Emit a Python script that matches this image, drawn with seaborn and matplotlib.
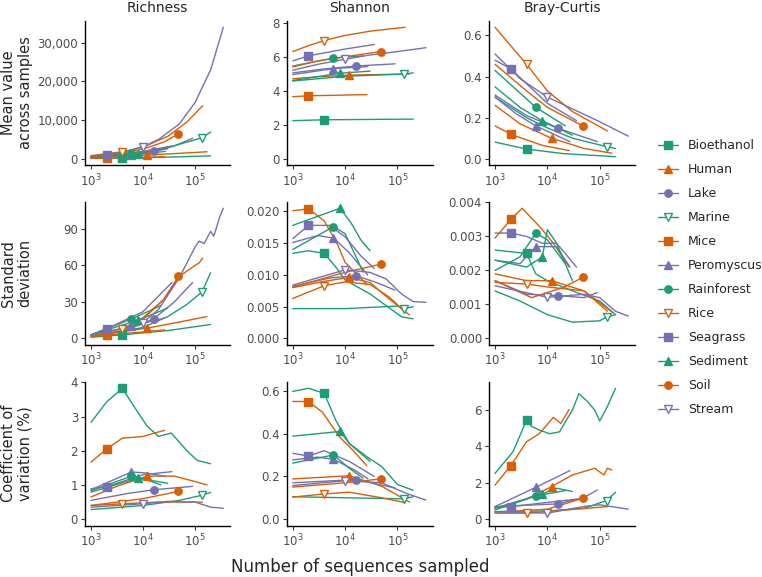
import numpy as np
import pandas as pd
import matplotlib
matplotlib.use("Agg")
import matplotlib.pyplot as plt
import seaborn as sns
from matplotlib.lines import Line2D

# Datasets, colours and marker shapes
datasets = ["Bioethanol", "Human", "Lake", "Marine", "Mice", "Peromyscus",
            "Rainforest", "Rice", "Seagrass", "Sediment", "Soil", "Stream"]
green, orange, purple = "#1B9E77", "#D95F02", "#7570B3"
colors = [green, orange, purple, green, orange, purple,
          green, orange, purple, green, orange, purple]
markers = ["s", "^", "o", "v", "s", "^", "o", "v", "s", "^", "o", "v"]
filled = [True, True, True, False, True, True, True, False, True, True, True, False]

# x position of the single marker on each curve
marker_x = {"Bioethanol": 4e3, "Human": 1.2e4, "Lake": 1.6e4, "Marine": 1.35e5,
            "Mice": 2e3, "Peromyscus": 6e3, "Rainforest": 6e3, "Rice": 4e3,
            "Seagrass": 2e3, "Sediment": 8e3, "Soil": 4.8e4, "Stream": 1e4}

# ---- Mean value across samples ----
richness_mean = {
    "Bioethanol": ([1e3, 4e3, 3e4, 2e5], [80, 150, 400, 750]),
    "Human": ([1e3, 1.2e4, 5e4, 1.7e5], [250, 950, 1400, 1800]),
    "Lake": ([1e3, 5e3, 1.6e4, 4e4, 9e4], [400, 1100, 1900, 3300, 5300]),
    "Marine": ([1e3, 1e4, 3e4, 7e4, 1.35e5, 2e5], [300, 1500, 2900, 4300, 5400, 6900]),
    "Mice": ([1e3, 2e3, 2.6e4], [100, 150, 500]),
    "Peromyscus": ([1e3, 6e3, 2.7e4], [350, 900, 1900]),
    "Rainforest": ([1e3, 6e3, 2.2e4], [400, 1300, 2500]),
    "Rice": ([1e3, 4e3, 1e4, 3e4, 7e4, 1.4e5], [800, 1800, 3000, 5800, 9500, 13700]),
    "Seagrass": ([1e3, 2e3, 1e4, 3.6e4], [550, 850, 1900, 3300]),
    "Sediment": ([1e3, 8e3, 3e4], [350, 1200, 2600]),
    "Soil": ([1e3, 4e3, 1e4, 2.5e4, 4.8e4], [600, 1500, 2500, 4300, 6400]),
    "Stream": ([1e3, 2e3, 5e3, 1e4, 2e4, 5e4, 1e5, 2e5, 3.5e5],
               [600, 1000, 2000, 3100, 5000, 9000, 14500, 23000, 34000]),
}
shannon_mean = {
    "Bioethanol": ([1e3, 4e3, 2e5], [2.24, 2.29, 2.33]),
    "Human": ([1e3, 3e3, 1.2e4, 1.7e5], [4.7, 4.82, 4.92, 4.98]),
    "Lake": ([1e3, 4e3, 1.6e4, 9e4], [5.05, 5.28, 5.45, 5.58]),
    "Marine": ([1e3, 1e4, 1.35e5, 2e5], [4.57, 4.85, 4.98, 5.05]),
    "Mice": ([1e3, 2e3, 2.6e4], [3.65, 3.7, 3.77]),
    "Peromyscus": ([1e3, 6e3, 2.7e4], [4.95, 5.3, 5.42]),
    "Rainforest": ([1e3, 6e3, 2.2e4], [5.45, 5.92, 6.05]),
    "Rice": ([1e3, 2e3, 4e3, 1e4, 3e4, 1.4e5], [6.3, 6.65, 6.95, 7.25, 7.5, 7.73]),
    "Seagrass": ([1e3, 2e3, 1e4, 3.6e4], [5.75, 6.05, 6.45, 6.72]),
    "Sediment": ([1e3, 8e3, 3e4], [4.6, 5.03, 5.15]),
    "Soil": ([1e3, 3e3, 1e4, 4.8e4], [5.4, 5.75, 6.0, 6.3]),
    "Stream": ([1e3, 3e3, 1e4, 3e4, 1e5, 3.5e5], [5.2, 5.55, 5.85, 6.1, 6.3, 6.53]),
}
bray_mean = {
    "Bioethanol": ([1e3, 4e3, 2e4, 2e5], [0.081, 0.047, 0.025, 0.01]),
    "Human": ([1e3, 3e3, 1.2e4, 5e4, 1.7e5], [0.26, 0.17, 0.10, 0.05, 0.027]),
    "Lake": ([1e3, 4e3, 1.6e4, 9e4], [0.31, 0.21, 0.148, 0.083]),
    "Marine": ([1e3, 4e3, 1e4, 3e4, 1.35e5, 2e5], [0.30, 0.2, 0.15, 0.1, 0.059, 0.05]),
    "Mice": ([1e3, 2e3, 8e3, 2.6e4], [0.16, 0.119, 0.065, 0.04]),
    "Peromyscus": ([1e3, 2.5e3, 6e3, 2.7e4], [0.30, 0.22, 0.16, 0.083]),
    "Rainforest": ([1e3, 3e3, 6e3, 2.2e4], [0.43, 0.32, 0.25, 0.16]),
    "Rice": ([1e3, 4e3, 1e4, 3e4, 1.4e5], [0.64, 0.46, 0.33, 0.23, 0.135]),
    "Seagrass": ([1e3, 2e3, 1e4, 3.6e4], [0.48, 0.437, 0.27, 0.185]),
    "Sediment": ([1e3, 3e3, 8e3, 3e4], [0.35, 0.25, 0.185, 0.115]),
    "Soil": ([1e3, 4e3, 1e4, 4.8e4], [0.46, 0.33, 0.25, 0.159]),
    "Stream": ([1e3, 3e3, 1e4, 1e5, 3.5e5], [0.51, 0.39, 0.30, 0.18, 0.11]),
}

# ---- Standard deviation ----
richness_sd = {
    "Bioethanol": ([1e3, 4e3, 3e4, 2e5], [1, 3, 6.5, 11.5]),
    "Human": ([1e3, 1.2e4, 5e4, 1.7e5], [2, 8.5, 13.5, 18]),
    "Lake": ([1e3, 5e3, 1.6e4, 4e4, 9e4], [2, 7, 16, 30, 46]),
    "Marine": ([1e3, 1e4, 3e4, 7e4, 1.35e5, 2e5], [1.5, 9, 18, 28, 38, 54]),
    "Mice": ([1e3, 2e3, 2.6e4], [1.8, 2.8, 7]),
    "Peromyscus": ([1e3, 6e3, 2.7e4], [2.5, 10, 17]),
    "Rainforest": ([1e3, 6e3, 2.2e4], [3, 16, 27]),
    "Rice": ([1e3, 4e3, 1e4, 2.5e4, 5e4, 1e5, 1.2e5, 1.4e5], [3, 8, 17, 32, 51, 60, 62, 66]),
    "Seagrass": ([1e3, 2e3, 1e4, 3.6e4], [3, 8, 22, 46]),
    "Sediment": ([1e3, 8e3, 3e4], [3, 15, 25]),
    "Soil": ([1e3, 4e3, 1e4, 2.5e4, 4.8e4], [2, 6, 16, 32, 51]),
    "Stream": ([1e3, 3e3, 1e4, 2e4, 5e4, 1e5, 1.2e5, 1.5e5, 2e5, 2.3e5, 3e5, 3.5e5],
               [3, 7, 13, 24, 50, 75, 80, 78, 88, 84, 100, 107]),
}
shannon_sd = {
    "Bioethanol": ([1e3, 2e3, 4e3, 7e3, 1e4, 3e4, 7e4, 1.2e5, 2e5],
                   [.0134, .0138, .0134, .0110, .0092, .0070, .0048, .0034, .0031]),
    "Human": ([1e3, 4e3, 1.2e4, 3e4, 7e4, 1.7e5], [.0080, .0090, .0096, .0088, .0062, .0037]),
    "Lake": ([1e3, 5e3, 1.6e4, 4e4, 9e4], [.0082, .0095, .0099, .0088, .0076]),
    "Marine": ([1e3, 1e4, 1e5, 1.35e5, 2e5], [.0047, .0047, .0051, .0047, .0050]),
    "Mice": ([1e3, 2e3, 4e3, 7e3, 1e4, 2.6e4], [.0201, .0204, .0185, .0150, .0120, .0085]),
    "Peromyscus": ([1e3, 3e3, 6e3, 1.2e4, 2.7e4], [.0151, .0162, .0158, .0135, .0100]),
    "Rainforest": ([1e3, 6e3, 1e4, 2.2e4], [.0140, .0176, .0165, .0105]),
    "Rice": ([1e3, 4e3, 1e4, 3e4, 7e4, 1.4e5], [.0063, .0083, .0089, .0085, .0065, .0042]),
    "Seagrass": ([1e3, 2e3, 5e3, 1e4, 2e4, 3.6e4], [.0157, .0178, .0178, .0160, .0130, .0110]),
    "Sediment": ([1e3, 8e3, 1.3e4, 2e4, 3e4], [.0178, .0205, .0182, .0155, .0138]),
    "Soil": ([1e3, 1e4, 4.8e4], [.0081, .0104, .0117]),
    "Stream": ([1e3, 1e4, 3e4, 6e4, 1.2e5, 2e5, 3.5e5],
               [.0084, .0108, .0104, .0094, .0070, .0058, .0057]),
}
bray_sd = {
    "Bioethanol": ([1e3, 4e3, 6e3, 1e4, 3e4, 1e5, 2e5], [.0026, .0025, .0019, .0017, .0014, .0011, .0007]),
    "Human": ([1e3, 4e3, 1.2e4, 5e4, 1.7e5], [.0019, .0017, .0017, .0014, .00078]),
    "Lake": ([1e3, 4e3, 1.6e4, 5e4, 9e4], [.0017, .0013, .00126, .0012, .00135]),
    "Marine": ([1e3, 3e3, 1e4, 3e4, 1e5, 1.35e5, 2e5], [.0014, .0011, .0007, .00048, .00052, .00063, .0007]),
    "Mice": ([1e3, 2e3, 3.3e3, 7e3, 1.3e4, 2.6e4], [.00295, .0035, .00383, .0033, .0028, .0021]),
    "Peromyscus": ([1e3, 3e3, 6e3, 1.5e4, 2.7e4], [.0023, .0022, .0027, .0027, .0021]),
    "Rainforest": ([1e3, 3e3, 6e3, 1e4, 2.2e4], [.0020, .0024, .0031, .0029, .0022]),
    "Rice": ([1e3, 4e3, 1.2e4, 5e4, 1.4e5], [.00165, .0016, .0015, .0014, .0008]),
    "Seagrass": ([1e3, 2e3, 4e3, 8e3, 1.5e4, 3.6e4], [.0031, .0031, .0030, .0028, .0028, .0021]),
    "Sediment": ([1e3, 4e3, 8e3, 1e4, 1.5e4, 3e4], [.0023, .0021, .0024, .0032, .0028, .0017]),
    "Soil": ([1e3, 5e3, 2e4, 4.8e4], [.0017, .0012, .0015, .0018]),
    "Stream": ([1e3, 1e4, 5e4, 1e5, 2e5, 3.5e5], [.00155, .00121, .0013, .0012, .0008, .00066]),
}

# ---- Coefficient of variation (%) ----
richness_cv = {
    "Bioethanol": ([1e3, 2e3, 4e3, 6.5e3, 1.2e4, 2e4, 3.5e4, 7e4, 1.1e5, 2e5],
                   [2.83, 3.43, 3.83, 3.33, 2.72, 2.42, 2.52, 2.0, 1.72, 1.62]),
    "Human": ([1e3, 3e3, 1.2e4, 4e4, 1e5, 1.7e5], [0.65, 0.95, 1.26, 1.26, 1.1, 1.0]),
    "Lake": ([1e3, 5e3, 1.6e4, 9e4], [0.55, 0.75, 0.86, 0.96]),
    "Marine": ([1e3, 1e4, 5e4, 1.35e5, 2e5], [0.28, 0.4, 0.55, 0.7, 0.78]),
    "Mice": ([1e3, 2e3, 4e3, 1e4, 2.6e4], [1.67, 2.05, 2.37, 2.42, 2.6]),
    "Peromyscus": ([1e3, 6e3, 1.2e4, 2.7e4], [0.86, 1.38, 1.35, 1.25]),
    "Rainforest": ([1e3, 6e3, 1.2e4, 2.2e4], [0.83, 1.26, 1.15, 1.0]),
    "Rice": ([1e3, 4e3, 2e4, 1.4e5], [0.4, 0.45, 0.5, 0.5]),
    "Seagrass": ([1e3, 2e3, 1e4, 3.6e4], [0.89, 0.95, 1.3, 1.39]),
    "Sediment": ([1e3, 8e3, 3e4], [0.79, 1.2, 1.05]),
    "Soil": ([1e3, 1e4, 4.8e4], [0.4, 0.6, 0.81]),
    "Stream": ([1e3, 1e4, 3e4, 1e5, 2e5, 3.5e5], [0.35, 0.45, 0.52, 0.5, 0.35, 0.32]),
}
shannon_cv = {
    "Bioethanol": ([1e3, 2e3, 4e3, 6.7e3, 1.2e4, 2.6e4, 5e4, 1e5, 2e5],
                   [0.597, 0.612, 0.588, 0.46, 0.354, 0.292, 0.246, 0.162, 0.135]),
    "Human": ([1e3, 1.2e4, 5e4, 1.7e5], [0.188, 0.203, 0.154, 0.08]),
    "Lake": ([1e3, 1.6e4, 9e4], [0.17, 0.185, 0.146]),
    "Marine": ([1e3, 1e4, 1.35e5, 2e5], [0.105, 0.1, 0.095, 0.105]),
    "Mice": ([1e3, 2e3, 3.7e3, 7.8e3, 1.4e4, 2.6e4], [0.55, 0.55, 0.5, 0.385, 0.323, 0.25]),
    "Peromyscus": ([1e3, 3e3, 6e3, 1.5e4, 2.7e4], [0.277, 0.29, 0.28, 0.23, 0.19]),
    "Rainforest": ([1e3, 6e3, 1.2e4, 2.2e4], [0.262, 0.3, 0.238, 0.192]),
    "Rice": ([1e3, 4e3, 1.2e4, 5e4, 1.4e5], [0.103, 0.118, 0.126, 0.1, 0.077]),
    "Seagrass": ([1e3, 2e3, 4e3, 1.2e4, 3.6e4], [0.308, 0.295, 0.32, 0.27, 0.2]),
    "Sediment": ([1e3, 8e3, 1.2e4, 3e4], [0.388, 0.41, 0.354, 0.27]),
    "Soil": ([1e3, 1e4, 4.8e4], [0.15, 0.17, 0.188]),
    "Stream": ([1e3, 1e4, 5e4, 1.5e5, 3.5e5], [0.157, 0.18, 0.17, 0.12, 0.089]),
}
bray_cv = {
    "Bioethanol": ([1e3, 2.2e3, 4e3, 5e3, 7e3, 1.1e4, 1.7e4, 3e4, 4e4, 5.7e4, 8e4, 1e5, 1.4e5, 2e5],
                   [2.52, 3.7, 5.44, 5.1, 4.9, 4.7, 4.8, 6.0, 6.9, 6.5, 6.0, 5.4, 6.2, 7.2]),
    "Human": ([1e3, 4e3, 1.2e4, 3e4, 8e4, 1.2e5, 1.4e5, 1.7e5], [0.6, 1.1, 1.79, 2.43, 2.8, 2.43, 2.8, 2.7]),
    "Lake": ([1e3, 1.6e4, 5e4, 9e4], [0.69, 0.84, 1.2, 1.6]),
    "Marine": ([1e3, 1e4, 5e4, 1.35e5, 2e5], [0.42, 0.45, 0.6, 1.02, 1.48]),
    "Mice": ([1e3, 2e3, 4e3, 7e3, 1.3e4, 1.8e4, 2.6e4], [1.88, 2.94, 4.26, 4.7, 5.6, 5.26, 6.03]),
    "Peromyscus": ([1e3, 6e3, 2.7e4], [0.69, 1.75, 2.67]),
    "Rainforest": ([1e3, 6e3, 2.2e4], [0.51, 1.28, 1.57]),
    "Rice": ([1e3, 4e3, 1.4e5], [0.33, 0.33, 0.69]),
    "Seagrass": ([1e3, 2e3, 3.6e4], [0.65, 0.69, 1.1]),
    "Sediment": ([1e3, 8e3, 1.5e4, 3e4], [0.6, 1.39, 1.7, 1.52]),
    "Soil": ([1e3, 1e4, 4.8e4], [0.37, 0.55, 1.15]),
    "Stream": ([1e3, 1e4, 5e4, 1e5, 3.5e5], [0.4, 0.33, 0.7, 0.79, 0.55]),
}

metrics = ["Richness", "Shannon", "Bray-Curtis"]
row_labels = ["Mean value\nacross samples", "Standard\ndeviation", "Coefficient of\nvariation (%)"]
panels = [[richness_mean, shannon_mean, bray_mean],
          [richness_sd, shannon_sd, bray_sd],
          [richness_cv, shannon_cv, bray_cv]]
yticks = [
    [([0, 10000, 20000, 30000], ["0", "10,000", "20,000", "30,000"]),
     ([0, 2, 4, 6, 8], ["0", "2", "4", "6", "8"]),
     ([0, 0.2, 0.4, 0.6], ["0.0", "0.2", "0.4", "0.6"])],
    [([0, 30, 60, 90], ["0", "30", "60", "90"]),
     ([0, .005, .01, .015, .02], ["0.000", "0.005", "0.010", "0.015", "0.020"]),
     ([0, .001, .002, .003, .004], ["0.000", "0.001", "0.002", "0.003", "0.004"])],
    [([0, 1, 2, 3, 4], ["0", "1", "2", "3", "4"]),
     ([0, 0.2, 0.4, 0.6], ["0.0", "0.2", "0.4", "0.6"]),
     ([0, 2, 4, 6], ["0", "2", "4", "6"])],
]

# panel positions in pixels (left, right) / (top, bottom)
W, H = 762, 577
cols_px = [(85, 230), (286.7, 432.7), (489, 635)]
rows_px = [(20.7, 165.3), (201.7, 345), (381.7, 525.7)]

sns.set_style("ticks")
plt.rcParams["font.family"] = ["DejaVu Sans"]
palette = dict(zip(datasets, colors))
ms_filled, ms_open = 5.3, 6.2

fig = plt.figure(figsize=(W / 100, H / 100), dpi=100)

for r in range(3):
    for c in range(3):
        table = panels[r][c]
        recs = []
        for name in datasets:
            xs, ys = table[name]
            for xv, yv in zip(xs, ys):
                recs.append({"dataset": name, "x": xv, "value": yv})
        df = pd.DataFrame(recs)

        x0, x1 = cols_px[c]
        t, b = rows_px[r]
        ax = fig.add_axes([x0 / W, (H - b) / H, (x1 - x0) / W, (b - t) / H])
        sns.lineplot(data=df, x="x", y="value", hue="dataset", hue_order=datasets,
                     palette=palette, estimator=None, sort=False, legend=False,
                     linewidth=1.0, ax=ax)
        for name, col, mk, fl in zip(datasets, colors, markers, filled):
            xs, ys = table[name]
            mx = marker_x[name]
            my = ys[list(xs).index(mx)]
            ax.plot([mx], [my], marker=mk, color=col, markersize=ms_filled if fl else ms_open,
                    markerfacecolor=col if fl else "white", markeredgewidth=1.0,
                    linestyle="none", zorder=3)

        ax.set_xscale("log")
        ax.set_xlim(10 ** 2.885, 10 ** 5.673)
        ax.set_xticks([1e3, 1e4, 1e5])
        ax.set_xticklabels(["$10^3$", "$10^4$", "$10^5$"])
        ax.minorticks_off()
        ymax = df["value"].max()
        ax.set_ylim(-0.05 * ymax, 1.05 * ymax)
        ax.set_yticks(yticks[r][c][0])
        ax.set_yticklabels(yticks[r][c][1])
        ax.set_xlabel("")
        ax.set_ylabel("")
        sns.despine(ax=ax)
        for side in ["left", "bottom"]:
            ax.spines[side].set_color("black")
            ax.spines[side].set_linewidth(1.0)
        ax.tick_params(axis="both", labelsize=8.5, colors="#333333", labelcolor="#4D4D4D",
                       length=3, width=0.8, pad=2)

        if r == 0:
            fig.text((x0 + x1) / 2 / W, 1 - 8 / H, metrics[c], ha="center", va="center",
                     fontsize=10)
    fig.text(17 / W, 1 - ((rows_px[r][0] + rows_px[r][1]) / 2) / H, row_labels[r],
             rotation=90, ha="center", va="center", fontsize=10.5, linespacing=1.1)

fig.text(360 / W, 1 - 567 / H, "Number of sequences sampled", ha="center", va="center",
         fontsize=12)

handles = [Line2D([0], [0], color=col, marker=mk, linewidth=1.0,
                  markersize=ms_filled if fl else ms_open,
                  markerfacecolor=col if fl else "white", markeredgewidth=1.0)
           for col, mk, fl in zip(colors, markers, filled)]
fig.legend(handles, datasets, loc="center left", bbox_to_anchor=(658 / W, 1 - 277.5 / H),
           frameon=False, fontsize=9, handlelength=1.6, handletextpad=0.8,
           labelspacing=0.88, borderpad=0, borderaxespad=0)

fig.savefig("out.png", dpi=100)
